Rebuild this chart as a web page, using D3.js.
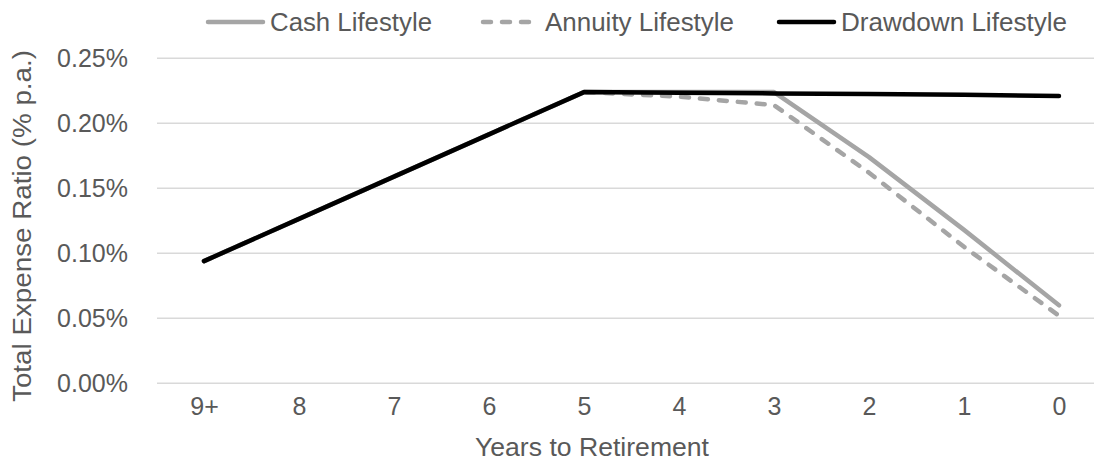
<!DOCTYPE html>
<html>
<head>
<meta charset="utf-8">
<script src="https://cdn.jsdelivr.net/npm/d3@7"></script>
<style>
  html, body { margin: 0; padding: 0; background: #fff; }
  svg { display: block; }
  text { font-family: "Liberation Sans", Arial, sans-serif; fill: #595959; }
</style>
</head>
<body>
<svg id="chart" width="1094" height="464"></svg>
<script>
// Years to retirement (x categories)
const years = ["9+", "8", "7", "6", "5", "4", "3", "2", "1", "0"];

// Total expense ratio, % p.a.
const cashLifestyle     = [0.094, 0.1265, 0.159, 0.1915, 0.224, 0.224, 0.224, 0.174, 0.118, 0.060];
const annuityLifestyle  = [0.094, 0.1265, 0.159, 0.1915, 0.224, 0.2205, 0.214, 0.162, 0.105, 0.052];
const drawdownLifestyle = [0.094, 0.1265, 0.159, 0.1915, 0.224, 0.2235, 0.223, 0.2225, 0.222, 0.221];

const yTicks = [0, 0.05, 0.10, 0.15, 0.20, 0.25];

const seriesNames = ["Cash Lifestyle", "Annuity Lifestyle", "Drawdown Lifestyle"];

const series = [
  { name: seriesNames[0], values: cashLifestyle,     color: "#a5a5a5", dash: null },
  { name: seriesNames[1], values: annuityLifestyle,  color: "#a5a5a5", dash: "8,11" },
  { name: seriesNames[2], values: drawdownLifestyle, color: "#000000", dash: null }
];

const svg = d3.select("#chart");
const FONT = 25;
const plotLeft = 157, plotRight = 1094;

const x = d3.scalePoint().domain(years).range([204, 1059]);
const y = d3.scaleLinear().domain([0, 0.25]).range([383.3, 58.3]);

// Gridlines
svg.append("g")
  .selectAll("line")
  .data(yTicks)
  .join("line")
  .attr("x1", plotLeft).attr("x2", plotRight)
  .attr("y1", d => y(d)).attr("y2", d => y(d))
  .attr("stroke", "#d9d9d9")
  .attr("stroke-width", 1.5);

// Y axis labels
const yAxis = d3.axisLeft(y).tickValues(yTicks).tickFormat(d => d.toFixed(2) + "%").tickSize(0).tickPadding(0);
const yg = svg.append("g").attr("transform", "translate(128,0)").call(yAxis);
yg.select(".domain").remove();
yg.selectAll("text").attr("font-size", FONT).attr("fill", "#595959")
  .attr("font-family", "'Liberation Sans', Arial, sans-serif");

// X axis labels
const xAxis = d3.axisBottom(x).tickSize(0).tickPadding(0);
const xg = svg.append("g").attr("transform", "translate(0,397)").call(xAxis);
xg.select(".domain").remove();
xg.selectAll("text").attr("font-size", FONT).attr("fill", "#595959")
  .attr("font-family", "'Liberation Sans', Arial, sans-serif");

// Axis titles
svg.append("text")
  .attr("x", 592).attr("y", 456)
  .attr("text-anchor", "middle")
  .attr("font-size", FONT)
  .attr("textLength", 234)
  .attr("lengthAdjust", "spacingAndGlyphs")
  .text("Years to Retirement");

svg.append("text")
  .attr("transform", "translate(31,226) rotate(-90)")
  .attr("text-anchor", "middle")
  .attr("font-size", FONT)
  .attr("textLength", 352)
  .attr("lengthAdjust", "spacingAndGlyphs")
  .text("Total Expense Ratio (% p.a.)");

// Series lines
const line = d3.line()
  .x((d, i) => x(years[i]))
  .y(d => y(d));

svg.append("g")
  .selectAll("path")
  .data(series)
  .join("path")
  .attr("d", d => line(d.values))
  .attr("fill", "none")
  .attr("stroke", d => d.color)
  .attr("stroke-width", 4.5)
  .attr("stroke-linejoin", "round")
  .attr("stroke-linecap", "round")
  .attr("stroke-dasharray", d => d.dash);

// Legend
const legendX = [208, 483, 779];
const legendTextLen = [162, 189, 226];
const leg = svg.append("g")
  .selectAll("g")
  .data(series)
  .join("g")
  .attr("transform", (d, i) => `translate(${legendX[i]},22)`);

leg.append("line")
  .attr("x1", 0).attr("x2", 55)
  .attr("y1", 0).attr("y2", 0)
  .attr("stroke", d => d.color)
  .attr("stroke-width", 4.5)
  .attr("stroke-linecap", "round")
  .attr("stroke-dasharray", d => d.dash);

leg.append("text")
  .attr("x", 62).attr("y", 0)
  .attr("dy", "0.35em")
  .attr("font-size", FONT)
  .attr("textLength", (d, i) => legendTextLen[i])
  .attr("lengthAdjust", "spacingAndGlyphs")
  .text(d => d.name);
</script>
</body>
</html>
